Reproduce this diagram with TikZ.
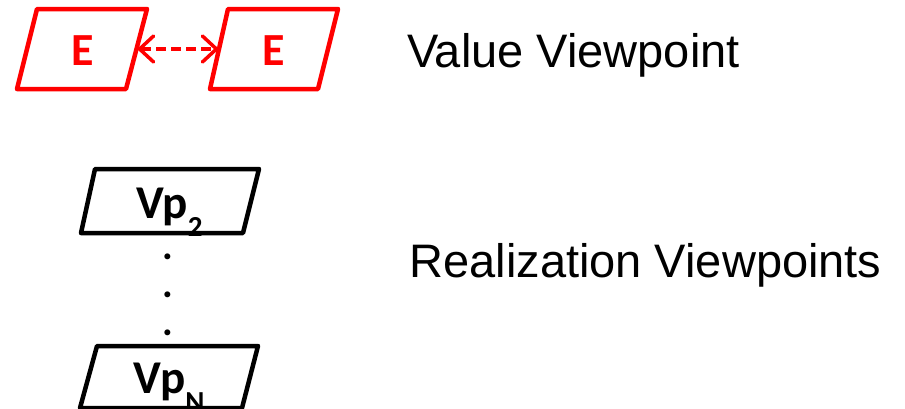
\documentclass[tikz,border=0pt]{standalone}
\usepackage{fontspec}
\setmainfont{Liberation Sans}
\newfontfamily\boxfont{Carlito}
\usetikzlibrary{arrows.meta}
\definecolor{pured}{RGB}{255,0,0}
\tikzset{
  ebox/.style={draw=pured, line width=4.5pt, line join=round},
  vpbox/.style={draw=black, line width=4.5pt, line join=round},
  etext/.style={inner sep=0pt, outer sep=0pt, anchor=base, text=pured,
    font=\boxfont\bfseries\fontsize{46}{46}\selectfont},
  vptext/.style={inner sep=0pt, outer sep=0pt, anchor=base, text=black,
    font=\boxfont\bfseries\fontsize{47}{47}\selectfont},
  label/.style={inner sep=0pt, outer sep=0pt, anchor=base west,
    font=\fontsize{47}{47}\selectfont},
  dotnode/.style={inner sep=0pt, outer sep=0pt, anchor=base,
    font=\boxfont\bfseries\fontsize{40}{40}\selectfont},
  link/.style={draw=pured, line width=3.5pt, dash pattern=on 10pt off 5pt,
    {Straight Barb[length=14pt,width=26pt,line cap=round]}-{Straight Barb[length=14pt,width=26pt,line cap=round]}}
}
\newcommand{\subsc}[1]{\raisebox{-18pt}{\fontsize{29}{29}\selectfont #1}}
\begin{document}
\begin{tikzpicture}[x=1pt,y=-1pt]
\useasboundingbox (0,0) rectangle (905,408);
% E boxes
\draw[ebox] (37,9) -- (147,9) -- (126,89) -- (17,89) -- cycle;
\draw[ebox] (228,9) -- (338,9) -- (318,89) -- (210,89) -- cycle;
\coordinate (e1r) at (137,49);
\coordinate (e2l) at (219,49);
\node[etext] (e1) at (82.5,65) {E};
\node[etext] (e2) at (274,65) {E};
\draw[link] (e1r) -- (e2l);
% Vp boxes
\draw[vpbox] (95,169) -- (259,169) -- (243,233) -- (81,233) -- cycle;
\draw[vpbox] (97,346) -- (258,346) -- (242,408) -- (80,408) -- cycle;
\node[vptext] (vp2) at (169.5,218) {Vp\subsc{2}};
\node[vptext] (vpn) at (169,393) {Vp\subsc{N}};
\node[dotnode] (d1) at (168,259.5) {.};
\node[dotnode] (d2) at (168,297.5) {.};
\node[dotnode] (d3) at (168,335.5) {.};
% labels
\node[label] (vv) at (407,67) {Value Viewpoint};
\node[label] (rv) at (409.5,277) {Realization Viewpoints};
\end{tikzpicture}
\end{document}
